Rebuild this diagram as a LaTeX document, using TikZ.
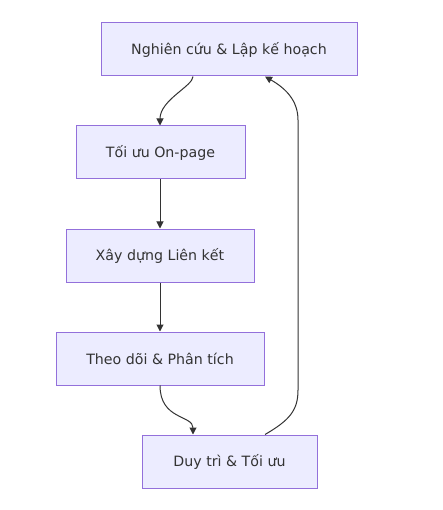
\documentclass[tikz,border=0pt]{standalone}
\usepackage{fontspec}
\setmainfont{DejaVu Sans}
\usetikzlibrary{arrows.meta}
\definecolor{boxfill}{HTML}{ECECFF}
\definecolor{boxline}{HTML}{9370DB}
\definecolor{txt}{HTML}{333333}
\begin{document}
\begin{tikzpicture}[x=1pt,y=-1pt,
  box/.style={draw=boxline,fill=boxfill,line width=1pt,text=txt,inner sep=0pt,font=\fontsize{14.2}{16}\selectfont},
  link/.style={draw=txt,line width=1pt,-{Triangle[length=7pt,width=7pt]}}]
\useasboundingbox (0,0) rectangle (442,510);
\fill[white] (0,0) rectangle (442,510);
\node[box,minimum width=256pt,minimum height=53pt] (a) at (229,49.5) {Nghiên cứu \& Lập kế hoạch};
\node[box,minimum width=169pt,minimum height=53pt] (b) at (160.5,152.5) {Tối ưu On-page};
\node[box,minimum width=188pt,minimum height=53pt] (c) at (160,255.5) {Xây dựng Liên kết};
\node[box,minimum width=208pt,minimum height=53pt] (d) at (160,358.5) {Theo dõi \& Phân tích};
\node[box,minimum width=175pt,minimum height=53pt] (e) at (229.5,461.5) {Duy trì \& Tối ưu};
\draw[link] (a.south -| 193,0) .. controls (193,86) and (160,100) .. (b.north -| 160,0);
\draw[link] (b.south -| 160,0) -- (c);
\draw[link] (c) -- (d);
\draw[link] (d.south -| 160,0) .. controls (160,420) and (193,415) .. (e.north -| 193,0);
\draw[link] (e.north -| 265,0) .. controls (290,420) and (298,410) .. (298,390) -- (298,120) .. controls (298,100) and (285,88) .. (a.south -| 265,0);
\end{tikzpicture}
\end{document}
